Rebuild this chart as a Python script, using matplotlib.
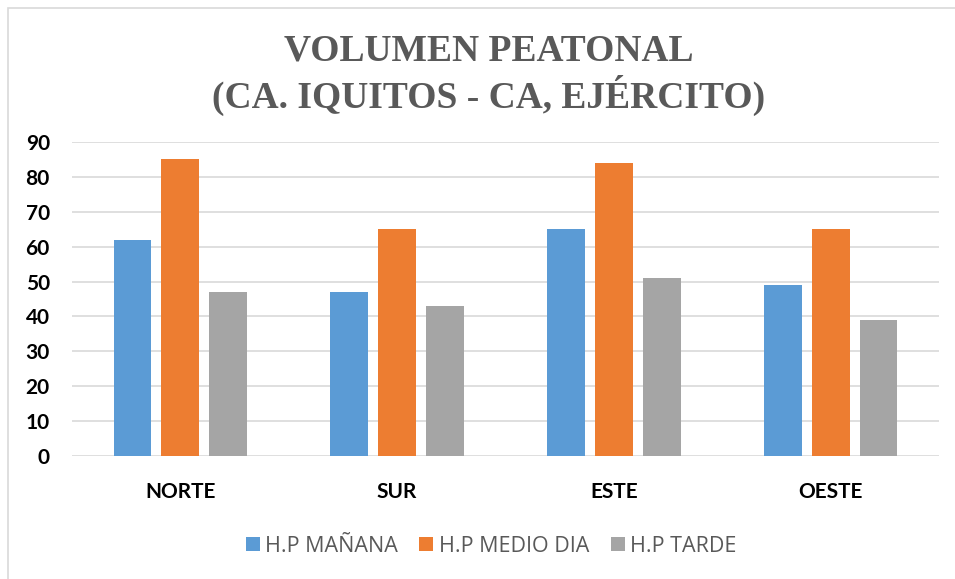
import matplotlib
matplotlib.use("Agg")
import matplotlib.pyplot as plt
import numpy as np
from matplotlib.patches import Rectangle

categories = ["NORTE", "SUR", "ESTE", "OESTE"]
series_names = ["H.P MAÑANA", "H.P MEDIO DIA", "H.P TARDE"]
manana = [62, 47, 65, 49]
medio_dia = [85, 65, 84, 65]
tarde = [47, 43, 51, 39]
yticks = [0, 10, 20, 30, 40, 50, 60, 70, 80, 90]
title = "VOLUMEN PEATONAL\n(CA. IQUITOS - CA, EJÉRCITO)"

colors = ["#5B9BD5", "#ED7D31", "#A5A5A5"]

fig = plt.figure(figsize=(9.55, 5.79), dpi=100)
ax = fig.add_axes([72/955, 1-456/579, (939-72)/955, (456-142)/579])

# chart border
fig.patches.append(Rectangle((8/955, -0.1), 1.2, (1-8/579)+0.1, transform=fig.transFigure,
                             fill=False, edgecolor="#D9D9D9", linewidth=1.2))

x = np.arange(len(categories))
w = 0.175
step = 0.221
for i, (vals, name, c) in enumerate(zip([manana, medio_dia, tarde], series_names, colors)):
    ax.bar(x + (i-1)*step, vals, width=w, color=c, label=name, zorder=3)

ax.set_xlim(-0.5, len(categories)-0.5)
ax.set_ylim(0, 90)
ax.set_yticks(yticks)
ax.set_yticklabels([str(v) for v in yticks], fontsize=15, fontweight="bold", family="Lato")
ax.set_xticks(x)
ax.set_xticklabels(categories, fontsize=15, fontweight="bold", family="Lato")
ax.tick_params(axis="both", length=0)
ax.tick_params(axis="y", pad=16)
ax.tick_params(axis="x", pad=19)
ax.grid(axis="y", color="#D9D9D9", linewidth=1.2, zorder=0)
for s in ax.spines.values():
    s.set_visible(False)

fig.text(489/955, 1-75/579, title, ha="center", va="center", fontsize=27, fontweight="bold",
         family="Liberation Serif", color="#595959", linespacing=1.2)

leg = fig.legend(loc="center", bbox_to_anchor=(491/955, 1-546/579), ncol=3, frameon=False,
                 prop={"family": "Open Sans", "size": 15.5}, handlelength=0.65, handleheight=0.65,
                 columnspacing=1.0, handletextpad=0.25)
for t in leg.get_texts():
    t.set_color("#595959")

fig.savefig("out.png", dpi=100, facecolor="white")
